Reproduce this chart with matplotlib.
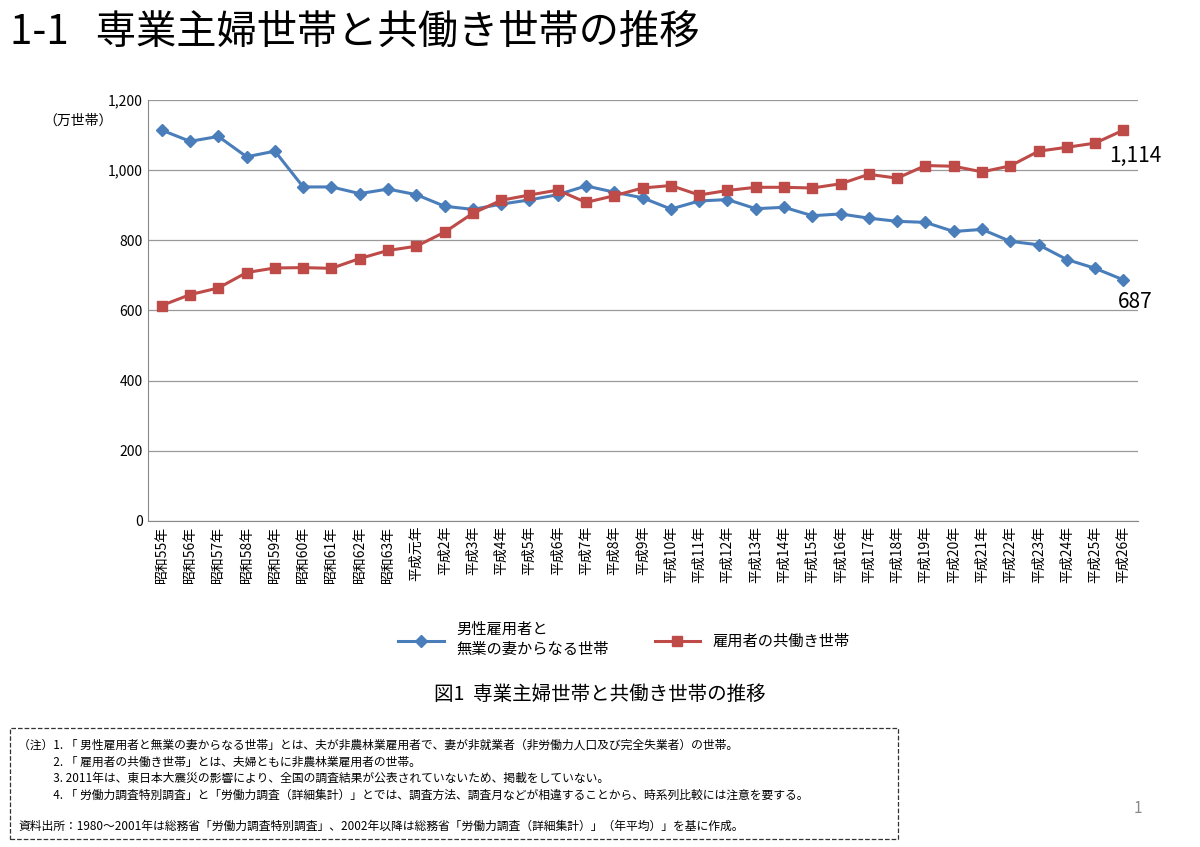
import matplotlib
matplotlib.use("Agg")
import matplotlib.pyplot as plt
from matplotlib.patches import Rectangle

plt.rcParams['font.family'] = ['Noto Sans CJK JP', 'DejaVu Sans']

labels = (["昭和55年", "昭和56年", "昭和57年", "昭和58年", "昭和59年", "昭和60年", "昭和61年",
           "昭和62年", "昭和63年", "平成元年"]
          + [f"平成{i}年" for i in range(2, 27)])
housewife = [1114, 1082, 1096, 1038, 1054, 952, 952, 933, 946, 930, 897, 888, 903, 915, 930,
             955, 937, 921, 889, 912, 916, 890, 894, 870, 875, 863, 854, 851, 825, 831, 797,
             787, 745, 720, 687]
dual = [614, 645, 664, 708, 721, 722, 720, 748, 771, 783, 823, 877, 914, 929, 943, 908, 927,
        949, 956, 929, 942, 951, 951, 949, 961, 988, 977, 1013, 1011, 995, 1012, 1054, 1065,
        1077, 1114]

BLUE = "#4A7EBB"
RED = "#BE4B48"

fig = plt.figure(figsize=(12, 8.47), dpi=100)
ax = fig.add_axes([0.123, 0.385, 0.825, 0.497])
x = range(len(labels))
ax.plot(x, housewife, color=BLUE, marker="D", markersize=6, linewidth=2.2,
        label="男性雇用者と\n無業の妻からなる世帯")
ax.plot(x, dual, color=RED, marker="s", markersize=7, linewidth=2.2,
        label="雇用者の共働き世帯")
ax.set_xlim(-0.5, len(labels) - 0.5)
ax.set_ylim(0, 1200)
ax.set_yticks(range(0, 1201, 200))
ax.set_yticklabels([f"{v:,}" for v in range(0, 1201, 200)], fontsize=10)
ax.set_xticks(list(x))
ax.set_xticklabels(labels, rotation=90, fontsize=10)
ax.tick_params(length=0)
ax.grid(axis="y", color="#999999", linewidth=0.9)
ax.set_axisbelow(True)
for s in ["top", "right"]:
    ax.spines[s].set_visible(False)
ax.spines["left"].set_color("#888888")
ax.spines["bottom"].set_color("#888888")
ax.text(-0.035, 1140, "（万世帯）", transform=ax.get_yaxis_transform(), ha="right",
        va="center", fontsize=10)
ax.text(len(labels) - 0.6, housewife[-1] - 80, f"{housewife[-1]}", ha="center", fontsize=15)
ax.text(len(labels) - 0.6, dual[-1] - 90, f"{dual[-1]:,}", ha="center", fontsize=15)

fig.legend(loc="center", bbox_to_anchor=(0.52, 0.245), ncol=2, frameon=False,
           fontsize=11, handlelength=3, columnspacing=3)

fig.text(0.008, 0.962, "1-1   専業主婦世帯と共働き世帯の推移", fontsize=29, va="center")
fig.text(0.5, 0.18, "図1  専業主婦世帯と共働き世帯の推移", fontsize=14, ha="center", va="center")

fig.patches.append(Rectangle((0.008, 0.01), 0.74, 0.13, transform=fig.transFigure,
                             fill=False, linestyle="--", linewidth=0.9, edgecolor="#333333"))
notes = [
    "（注）1. 「 男性雇用者と無業の妻からなる世帯」とは、夫が非農林業雇用者で、妻が非就業者（非労働力人口及び完全失業者）の世帯。",
    "　　　2. 「 雇用者の共働き世帯」とは、夫婦ともに非農林業雇用者の世帯。",
    "　　　3. 2011年は、東日本大震災の影響により、全国の調査結果が公表されていないため、掲載をしていない。",
    "　　　4. 「 労働力調査特別調査」と「労働力調査（詳細集計）」とでは、調査方法、調査月などが相違することから、時系列比較には注意を要する。",
]
for i, n in enumerate(notes):
    fig.text(0.015, 0.12 - i * 0.0195, n, fontsize=8.5, va="center")
fig.text(0.015, 0.025, "資料出所：1980～2001年は総務省「労働力調査特別調査」、2002年以降は総務省「労働力調査（詳細集計）」（年平均）」を基に作成。",
         fontsize=8.5, va="center")
fig.text(0.945, 0.045, "1", fontsize=11, color="#888888", va="center")

fig.savefig("out.png", dpi=100)
